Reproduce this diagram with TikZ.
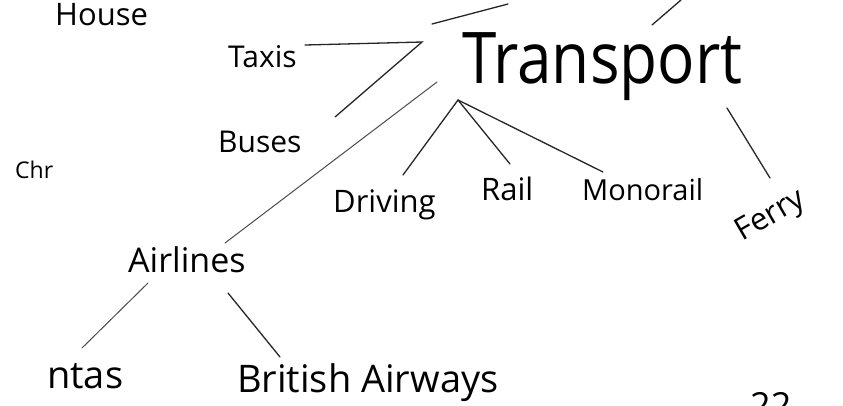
\documentclass[tikz,border=0pt]{standalone}
\usepackage{fontspec}
\setmainfont{Open Sans}
\tikzset{
  hw/.style={inner sep=0pt, anchor=base west, text=black},
  stroke/.style={draw=black!85, line width=1.3pt, line cap=round},
  faint/.style={draw=black!70, line width=1pt, line cap=round}
}
\begin{document}
\begin{tikzpicture}[x=1pt,y=-1pt]
\useasboundingbox (0,0) rectangle (843,405);
\fill[white] (0,0) rectangle (843,405);
% texts
\node[hw, font=\fontsize{31}{31}\selectfont] (house) at (55,25) {House};
\node[hw, font=\fontsize{30}{30}\selectfont] (taxis) at (228,67) {Taxis};
\node[hw, font=\fontsize{30}{30}\selectfont] (buses) at (218,152) {Buses};
\node[hw, font=\fontsize{23}{23}\selectfont] (chr) at (15,178) {Chr};
\node[hw, font=\fontsize{62}{62}\selectfont, yscale=1.15] (transport) at (462,83) {Transport};
\node[hw, font=\fontsize{31}{31}\selectfont] (driving) at (333,212) {Driving};
\node[hw, font=\fontsize{31}{31}\selectfont] (rail) at (481,200) {Rail};
\node[hw, font=\fontsize{29}{29}\selectfont] (monorail) at (582,200) {Monorail};
\node[inner sep=0pt, rotate=30, font=\fontsize{31}{31}\selectfont] (ferry) at (771,217) {Ferry};
\node[hw, font=\fontsize{34}{34}\selectfont] (airlines) at (128,272) {Airlines};
\node[hw, font=\fontsize{38}{38}\selectfont] (ntas) at (47,388) {ntas};
\node[hw, font=\fontsize{38}{38}\selectfont] (ba) at (237,392) {British Airways};
\node[inner sep=0pt, anchor=north west, font=\fontsize{36}{36}\selectfont] (pg) at (750,392) {22};
% connector end points
\coordinate (hubL) at (422,42);
\coordinate (taxisE) at (305,45);
\coordinate (busesE) at (335,117);
\coordinate (airT) at (437,82);
\coordinate (airB) at (225,243);
\coordinate (upA1) at (432,24);
\coordinate (upA2) at (508,4);
\coordinate (upB1) at (652,25);
\coordinate (upB2) at (681,0);
\coordinate (hubD) at (458,100);
\coordinate (drvE) at (403,175);
\coordinate (railE) at (510,164);
\coordinate (monoE) at (603,172);
\coordinate (ferT) at (727,108);
\coordinate (ferB) at (770,178);
\coordinate (aiQ1) at (148,283);
\coordinate (aiQ2) at (82,348);
\coordinate (aiB1) at (228,293);
\coordinate (aiB2) at (280,357);
% connectors
\draw[stroke] (taxisE) -- (hubL) -- (busesE);
\draw[faint] (airT) -- (airB);
\draw[stroke] (upA1) -- (upA2);
\draw[stroke] (upB1) -- (upB2);
\draw[stroke] (drvE) -- (hubD) -- (railE);
\draw[stroke] (hubD) -- (monoE);
\draw[stroke] (ferT) -- (ferB);
\draw[faint] (aiQ1) -- (aiQ2);
\draw[stroke] (aiB1) -- (aiB2);
\end{tikzpicture}
\end{document}
